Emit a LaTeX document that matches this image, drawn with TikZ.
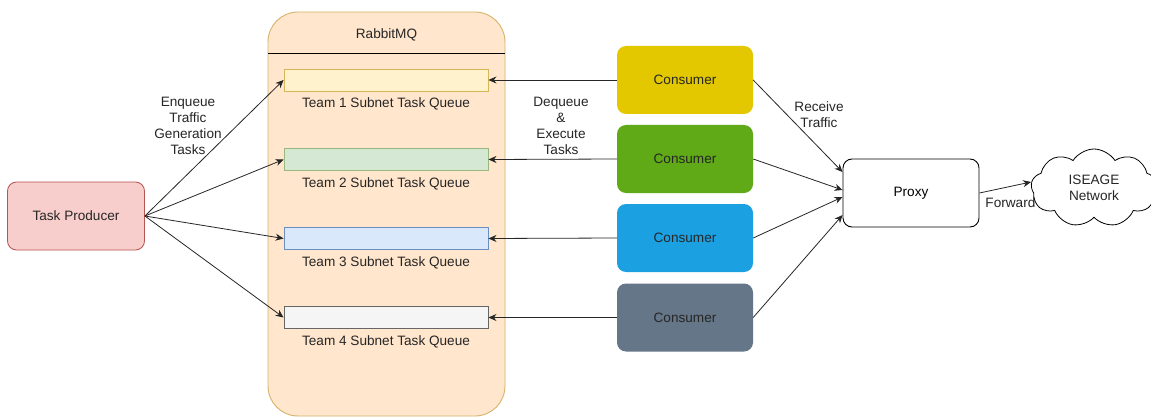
\documentclass[tikz,border=0pt]{standalone}
\usepackage{fontspec}
\setmainfont{Liberation Sans}
\usetikzlibrary{arrows.meta,positioning,shapes.symbols}
\definecolor{prodfill}{HTML}{F8CECC}
\definecolor{proddraw}{HTML}{B85450}
\definecolor{mqfill}{HTML}{FFE6CC}
\definecolor{mqdraw}{HTML}{D7B36A}
\definecolor{qyellow}{HTML}{FFF2CC}
\definecolor{qyellowd}{HTML}{D6B656}
\definecolor{qgreen}{HTML}{D5E8D4}
\definecolor{qgreend}{HTML}{9AB77E}
\definecolor{qblue}{HTML}{DAE8FC}
\definecolor{qblued}{HTML}{6C8EBF}
\definecolor{qgray}{HTML}{F5F5F5}
\definecolor{qgrayd}{HTML}{666666}
\definecolor{cyellow}{HTML}{E3C800}
\definecolor{cgreen}{HTML}{60A917}
\definecolor{cblue}{HTML}{1BA1E2}
\definecolor{cgray}{HTML}{647687}

\begin{document}
\begin{tikzpicture}[
    x=1pt, y=-1pt,
    font=\fontsize{13.6}{16}\selectfont,
    box/.style={rectangle, rounded corners=9pt, minimum width=136pt,
                minimum height=68pt, align=center},
    consumer/.style={box, draw=none, text=black!85},
    queue/.style={rectangle, draw, line width=0.9pt,
                  minimum width=204pt, minimum height=22pt},
    qtext/.style={inner sep=1pt, text=black!85},
    lbl/.style={align=center, text=black!85},
    arr/.style={-{Stealth[length=8pt,width=7pt]}, line width=0.8pt, black!85}
  ]
  \path[fill=white, use as bounding box] (0,0) rectangle (1151,417);

  % message broker
  \node[rectangle, rounded corners=30pt, draw=mqdraw, fill=mqfill,
        line width=0.9pt, minimum width=237pt, minimum height=404pt]
        (rabbit) at (386.5,214) {};
  \node[text=black!85] (mqtitle) at (386.5,35) {RabbitMQ};
  \draw[line width=0.9pt] ([yshift=-42pt]rabbit.north west)
    -- ([yshift=-42pt]rabbit.north east);

  \node[queue, draw=qyellowd, fill=qyellow] (q1) at (386,80) {};
  \node[queue, draw=qgreend, fill=qgreen] (q2) at (386,159.5) {};
  \node[queue, draw=qblued, fill=qblue] (q3) at (386,238.5) {};
  \node[queue, draw=qgrayd, fill=qgray] (q4) at (386,317.5) {};
  \node[qtext, below=5pt of q1] (t1) {Team 1 Subnet Task Queue};
  \node[qtext, below=5pt of q2] (t2) {Team 2 Subnet Task Queue};
  \node[qtext, below=5pt of q3] (t3) {Team 3 Subnet Task Queue};
  \node[qtext, below=5pt of q4] (t4) {Team 4 Subnet Task Queue};

  % producer side
  \node[box, draw=proddraw, fill=prodfill, line width=0.8pt,
        minimum width=137pt, text=black!85] (producer) at (76,216)
        {Task Producer};

  % consumers
  \node[consumer, fill=cyellow] (c1) at (685,80) {Consumer};
  \node[consumer, fill=cgreen] (c2) at (685,159) {Consumer};
  \node[consumer, fill=cblue] (c3) at (685,238) {Consumer};
  \node[consumer, fill=cgray] (c4) at (685,317.5) {Consumer};

  \node[box, draw, line width=0.9pt, fill=white] (proxy) at (911,193)
    {Proxy};
  \node[cloud, draw, fill=white, line width=0.8pt, cloud puffs=9,
        cloud puff arc=115, aspect=1.7, minimum width=126pt,
        minimum height=78pt, align=center, text=black!85]
        (iseage) at (1094,188) {ISEAGE\\Network};

  \node[lbl] (enq) at (188,126) {Enqueue\\Traffic\\Generation\\Tasks};
  \node[lbl] (deq) at (561,126) {Dequeue\\\&\\Execute\\Tasks};
  \node[lbl] (rcv) at (819,115) {Receive\\Traffic};

  \draw[arr] (producer.east) -- (q1.west);
  \draw[arr] (producer.east) -- (q2.west);
  \draw[arr] (producer.east) -- (q3.west);
  \draw[arr] (producer.east) -- (q4.west);

  \draw[arr] (c1.west) -- (q1.east);
  \draw[arr] (c2.west) -- (q2.east);
  \draw[arr] (c3.west) -- (q3.east);
  \draw[arr] (c4.west) -- (q4.east);

  \draw[arr] (c1.east) -- ([yshift=21pt]proxy.west);
  \draw[arr] (c2.east) -- ([yshift=3pt]proxy.west);
  \draw[arr] (c3.east) -- ([yshift=-4pt]proxy.west);
  \draw[arr] (c4.east) -- ([yshift=-22pt]proxy.west);

  \draw[arr] (proxy.east) -- node[below=8pt, pos=0.6, text=black!85] (fwd)
    {Forward} ([yshift=6pt]iseage.west);
\end{tikzpicture}
\end{document}
